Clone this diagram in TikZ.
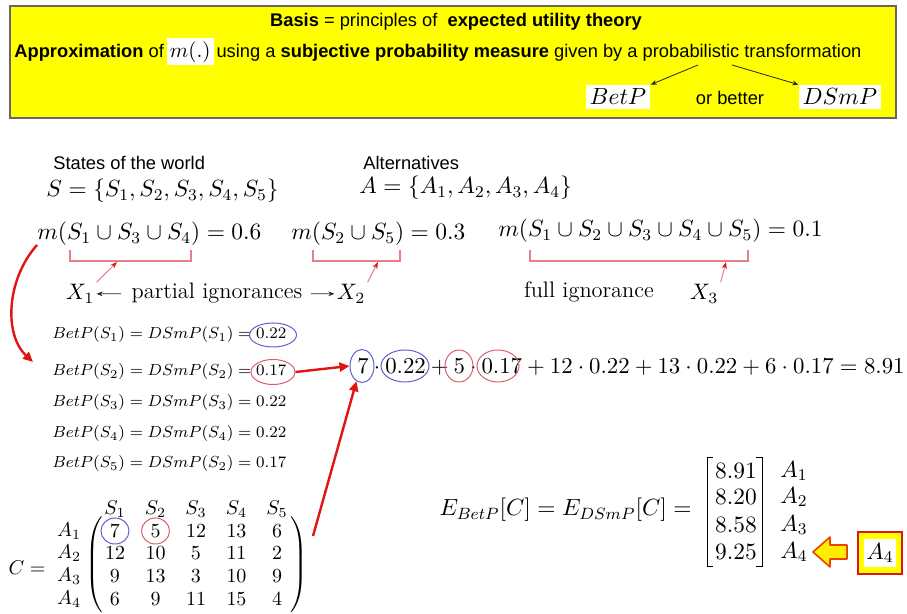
\documentclass[tikz,border=0pt]{standalone}
\usepackage{fix-cm}
\usepackage{amsmath}
\usepackage{fontspec}
\newfontfamily\arialfont{Liberation Sans}
\usetikzlibrary{positioning, arrows.meta, shapes.geometric}

\definecolor{boxyellow}{RGB}{255,255,0}
\definecolor{ringblue}{RGB}{95,95,205}
\definecolor{ringred}{RGB}{215,95,105}
\definecolor{markred}{RGB}{225,20,20}
\definecolor{bracepink}{RGB}{232,125,140}
\definecolor{hollowedge}{RGB}{230,70,0}

\tikzset{
  mbig/.style={font=\fontsize{11.7}{14}\selectfont, inner sep=1pt},
  mexpr/.style={font=\fontsize{11.4}{14}\selectfont, inner sep=1pt},
  mmid/.style={font=\fontsize{11.2}{13}\selectfont, inner sep=1pt},
  msmall/.style={font=\fontsize{8}{10}\selectfont, inner sep=1pt},
  mmat/.style={font=\fontsize{10}{12}\selectfont, inner sep=1pt},
  sans/.style={font=\arialfont\fontsize{9.15}{11}\selectfont, inner sep=1pt},
  ring/.style={draw=#1, ellipse, inner sep=0pt, line width=0.5pt},
  hint/.style={-{Stealth[length=3pt,width=2.4pt]}, black!85, line width=0.4pt},
  brace/.style={bracepink, line width=0.6pt},
  pinkarrow/.style={-{Stealth[length=3.5pt,width=2.6pt,color=markred]}, bracepink, line width=0.5pt},
  bigred/.style={-{Triangle[length=5pt,width=4.5pt]}, markred, line width=1.2pt},
}

\begin{document}
\begin{tikzpicture}[x=0.5pt, y=-0.5pt]
  \useasboundingbox (0,0) rectangle (907,614);

  % ── yellow header ──
  \fill[boxyellow] (10,6) rectangle (896,118);
  \draw[black!60, line width=0.8pt] (10,6) rectangle (896,118);
  \node[sans] (basis) at (456,22)
    {{\bfseries Basis} = principles of \ {\bfseries expected utility theory}};
  \node[sans, anchor=west] (approx) at (12,52)
    {{\bfseries Approximation} of\,{\fontsize{10.5}{12}\selectfont\setlength{\fboxsep}{1.5pt}\colorbox{white}{$m(.)$}}\,using a {\bfseries subjective probability measure} given by a probabilistic transformation};
  \node[mbig, fill=white, inner sep=2pt] (betp) at (618,97) {$BetP$};
  \node[sans] (better) at (730,98) {or better};
  \node[mbig, fill=white, inner sep=2pt] (dsmp) at (840,97) {$DSmP$};
  \coordinate (tr1) at (698,65);
  \coordinate (tr2) at (732,65);
  \draw[hint] (tr1) -- (betp.north east);
  \draw[hint] (tr2) -- (dsmp.north west);

  % ── states and alternatives ──
  \node[sans, anchor=west] (states) at (51,163) {States of the world};
  \node[mbig, anchor=west] (sset) at (44,191) {$S=\{S_1,S_2,S_3,S_4,S_5\}$};
  \node[sans, anchor=west] (alts) at (361,163) {Alternatives};
  \node[mbig, anchor=west] (aset) at (357,188) {$A=\{A_1,A_2,A_3,A_4\}$};

  % ── masses ──
  \node[mbig, anchor=west] (mass1) at (35,234) {$m(S_1\cup S_3\cup S_4)=0.6$};
  \node[mbig, anchor=west] (mass2) at (289,234) {$m(S_2\cup S_5)=0.3$};
  \node[mbig, anchor=west] (mass3) at (496,231) {$m(S_1\cup S_2\cup S_3\cup S_4\cup S_5)=0.1$};

  \draw[brace] (70,250) |- (191,261) -- (191,250);
  \draw[brace] (313,250) |- (400,261) -- (400,250);
  \draw[brace] (530,250) |- (748,261) -- (748,250);
  \coordinate (k1) at (117,262);
  \coordinate (k2) at (378,262);
  \coordinate (k3) at (726,262);

  \node[mmid] (x1) at (80,294) {$X_1$};
  \node[mmid] (pign) at (217,293) {partial ignorances};
  \node[mmid] (x2) at (351,294) {$X_2$};
  \draw[hint, shorten <=4pt] (pign) -- (x1);
  \draw[hint, shorten <=3pt] (pign) -- (x2);
  \node[mmid] (fign) at (589,292) {full ignorance};
  \node[mmid] (x3) at (704,294) {$X_3$};
  \draw[pinkarrow] (x1.north east) -- (k1);
  \draw[pinkarrow] (x2.north east) -- (k2);
  \draw[pinkarrow] (x3.north east) -- (k3);

  % ── pignistic values ──
  \foreach \i/\j/\v/\yy in {1/1/0.22/335, 2/2/0.17/372, 3/3/0.22/403, 4/4/0.22/434, 5/2/0.17/464}
    \node[msmall, anchor=west] (bp\i) at (50,\yy) {$BetP(S_\i)=DSmP(S_\j)=\v$};
  \node[ring=ringblue, minimum width=23.5pt, minimum height=12pt] (r22) at (273,335) {};
  \node[ring=ringred, minimum width=22pt, minimum height=12.5pt] (r17) at (273,372) {};

  \coordinate (cstart) at (37,245);
  \coordinate (cend) at (33,362);
  \draw[bigred] (cstart) .. controls (6,280) and (4,335) .. (cend);

  % ── expected cost of A1 ──
  \node[mexpr, anchor=west] (expr) at (355,367)
    {$7\cdot0.22+5\cdot0.17+12\cdot0.22+13\cdot0.22+6\cdot0.17=8.91$};
  \node[ring=ringblue, minimum width=12pt, minimum height=16.5pt] (t7) at (362,366) {};
  \node[ring=ringblue, minimum width=24pt, minimum height=16pt] (t22) at (405,366) {};
  \node[ring=ringred, minimum width=14pt, minimum height=16pt] (t5) at (459,366) {};
  \node[ring=ringred, minimum width=21pt, minimum height=16pt] (t17) at (498,366) {};
  \draw[bigred] (r17.east) -- (t7.west);

  % ── cost matrix ──
  \node[mmat] (cdef) at (27,568) {$C=$};
  \foreach \c in {1,...,5} {
    \pgfmathsetmacro{\xs}{115 + (\c-1)*40.5}
    \node[mmat] (h\c) at (\xs,509) {$S_\c$};
  }
  \foreach \r/\y/\vals in {1/531/{7,5,12,13,6}, 2/553/{12,10,5,11,2},
                           3/576/{9,13,3,10,9}, 4/599/{6,9,11,15,4}} {
    \node[mmat] (a\r) at (69,\y) {$A_\r$};
    \foreach \v [count=\c] in \vals {
      \pgfmathsetmacro{\xs}{115 + (\c-1)*40.5}
      \node[mmat] (m\r\c) at (\xs,\y) {$\v$};
    }
  }
  \node[mmat, inner sep=0pt] (lpar) at (95,567) {$\left(\vrule height 24pt depth 24pt width 0pt\right.$};
  \node[mmat, inner sep=0pt] (rpar) at (298,567) {$\left.\vrule height 24pt depth 24pt width 0pt\right)$};
  \node[ring=ringblue, minimum width=14pt, minimum height=13pt] (c7) at (m11) {};
  \node[ring=ringred, minimum width=14pt, minimum height=13pt] (c5) at (m12) {};

  \coordinate (mout) at (313,536);
  \draw[bigred] (mout) -- (t7.250);

  % ── expected costs ──
  \node[mbig, anchor=east] (efor) at (694,510) {$E_{BetP}[C]=E_{DSmP}[C]=$};
  \foreach \r/\y/\v in {1/471/8.91, 2/497/8.20, 3/525/8.58, 4/552/9.25} {
    \node[mbig] (v\r) at (736,\y) {$\v$};
    \node[mbig] (l\r) at (794,\y) {$A_\r$};
  }
  \draw[line width=0.5pt] (713,458) -| (707,567) -- (713,567);
  \draw[line width=0.5pt] (756,458) -| (762,567) -- (756,567);

  % hollow pointer and chosen alternative
  \filldraw[fill=yellow!95!orange, draw=hollowedge, line width=0.8pt, line join=round]
    (813,552) -- (830,537) -- (830,545) -- (847,545) -- (847,559) -- (830,559) -- (830,567) -- cycle;
  \node[draw=markred, line width=1.3pt, fill=boxyellow, minimum width=22pt, minimum height=21pt] (bestbox) at (880,553) {};
  \node[mbig, fill=white, inner sep=1pt, minimum size=14pt] (best) at (bestbox) {$A_4$};
\end{tikzpicture}
\end{document}
